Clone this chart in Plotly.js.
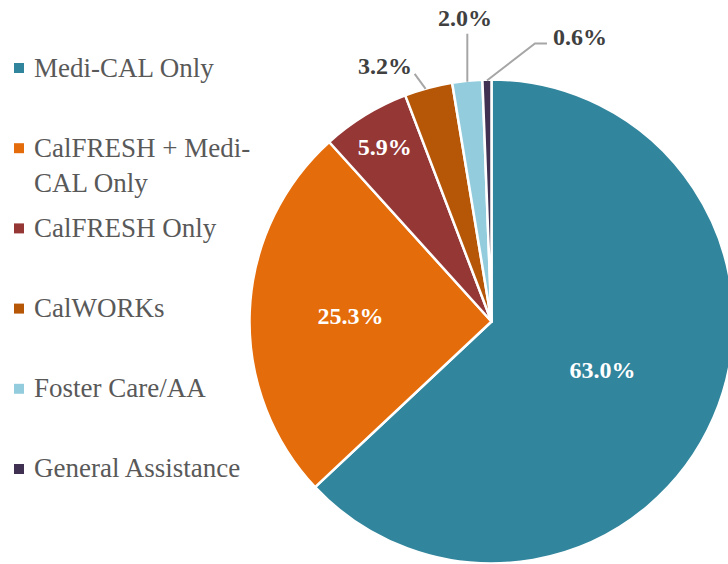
<!DOCTYPE html>
<html>
<head>
<meta charset="utf-8">
<script src="https://cdn.plot.ly/plotly-3.0.1.min.js"></script>
</head>
<body style="margin:0;overflow:hidden">
<div id="chart" style="width:760px;height:564px"></div>
<script>
// ---- data ----
const categories = ['Medi-CAL Only', 'CalFRESH + Medi-CAL Only', 'CalFRESH Only', 'CalWORKs', 'Foster Care/AA', 'General Assistance'];
const shares = [63.0, 25.3, 5.9, 3.2, 2.0, 0.6];
const colors = ['#31859C', '#E46C0A', '#953735', '#B65708', '#93CDDD', '#403152'];
const insideLabel = [true, true, true, false, false, false];

// ---- geometry / style ----
const W = 760, H = 564;
const cx = 491.5, cy = 321.5, R = 242;
const FONT = 'Liberation Serif';
const px = x => x / W;
const py = y => 1 - y / H;

const total = shares.reduce((a, b) => a + b, 0);
const fmt = v => v.toFixed(1) + '%';

// legend text wrapping
const legendText = categories.map(c => c.length > 20 ? c.replace('Medi-', 'Medi-<br>') : c);

const annotations = [];
const shapes = [];

// legend (drawn as text + squares)
const legTop = 68, legStep = 80.2;
categories.forEach((c, i) => {
  const yc = legTop + legStep * i;
  shapes.push({type: 'rect', xref: 'paper', yref: 'paper',
    x0: px(14), x1: px(24), y0: py(yc - 5), y1: py(yc + 5),
    fillcolor: colors[i], line: {width: 0}});
  annotations.push({xref: 'paper', yref: 'paper', x: px(32), y: py(yc - 17.5),
    xanchor: 'left', yanchor: 'top', align: 'left', showarrow: false,
    text: legendText[i], font: {family: FONT, size: 27, color: '#595959'}});
});

// outside labels with leader lines
const leader = {
  3: {pts: [[-3, 0], [-14, -15]], text: [-44, -23], anchor: 'center'},
  4: {pts: [[0, 0], [0, -48]], text: [-2, -64], anchor: 'center'},
  5: {pts: [[0, 0], [48, -37], [60, -37]], text: [64, -44], anchor: 'left'}
};
let cum = 0;
shares.forEach((v, i) => {
  const mid = (cum + v / 2) / total * 2 * Math.PI;
  cum += v;
  if (insideLabel[i]) return;
  const ex = cx + (R - 1) * Math.sin(mid), ey = cy - (R - 1) * Math.cos(mid);
  const L = leader[i];
  const path = L.pts.map((p, k) => (k ? 'L' : 'M') + px(ex + p[0]) + ',' + py(ey + p[1])).join(' ');
  shapes.push({type: 'path', xref: 'paper', yref: 'paper', path: path,
    line: {color: '#A6A6A6', width: 2}});
  annotations.push({xref: 'paper', yref: 'paper', x: px(ex + L.text[0]), y: py(ey + L.text[1]),
    xanchor: L.anchor, yanchor: 'middle', showarrow: false,
    text: '<b>' + fmt(v) + '</b>', font: {family: FONT, size: 24, color: '#404040'}});
});

const trace = {
  type: 'pie',
  labels: categories,
  values: shares,
  sort: false,
  direction: 'clockwise',
  rotation: 0,
  marker: {colors: colors, line: {color: '#ffffff', width: 2.5}},
  text: shares.map((v, i) => insideLabel[i] ? '<b>' + fmt(v) + '</b>' : ''),
  textinfo: 'text',
  textposition: insideLabel.map(b => b ? 'inside' : 'none'),
  insidetextorientation: 'horizontal',
  insidetextfont: {family: FONT, size: 24, color: '#ffffff'},
  hoverinfo: 'label+percent',
  showlegend: false,
  domain: {x: [px(cx - R), px(cx + R)], y: [py(cy + R), py(cy - R)]}
};

const layout = {
  width: W, height: H,
  margin: {l: 0, r: 0, t: 0, b: 0},
  paper_bgcolor: '#ffffff',
  showlegend: false,
  annotations: annotations,
  shapes: shapes
};

Plotly.newPlot('chart', [trace], layout, {displayModeBar: false, staticPlot: true});
</script>
</body>
</html>
